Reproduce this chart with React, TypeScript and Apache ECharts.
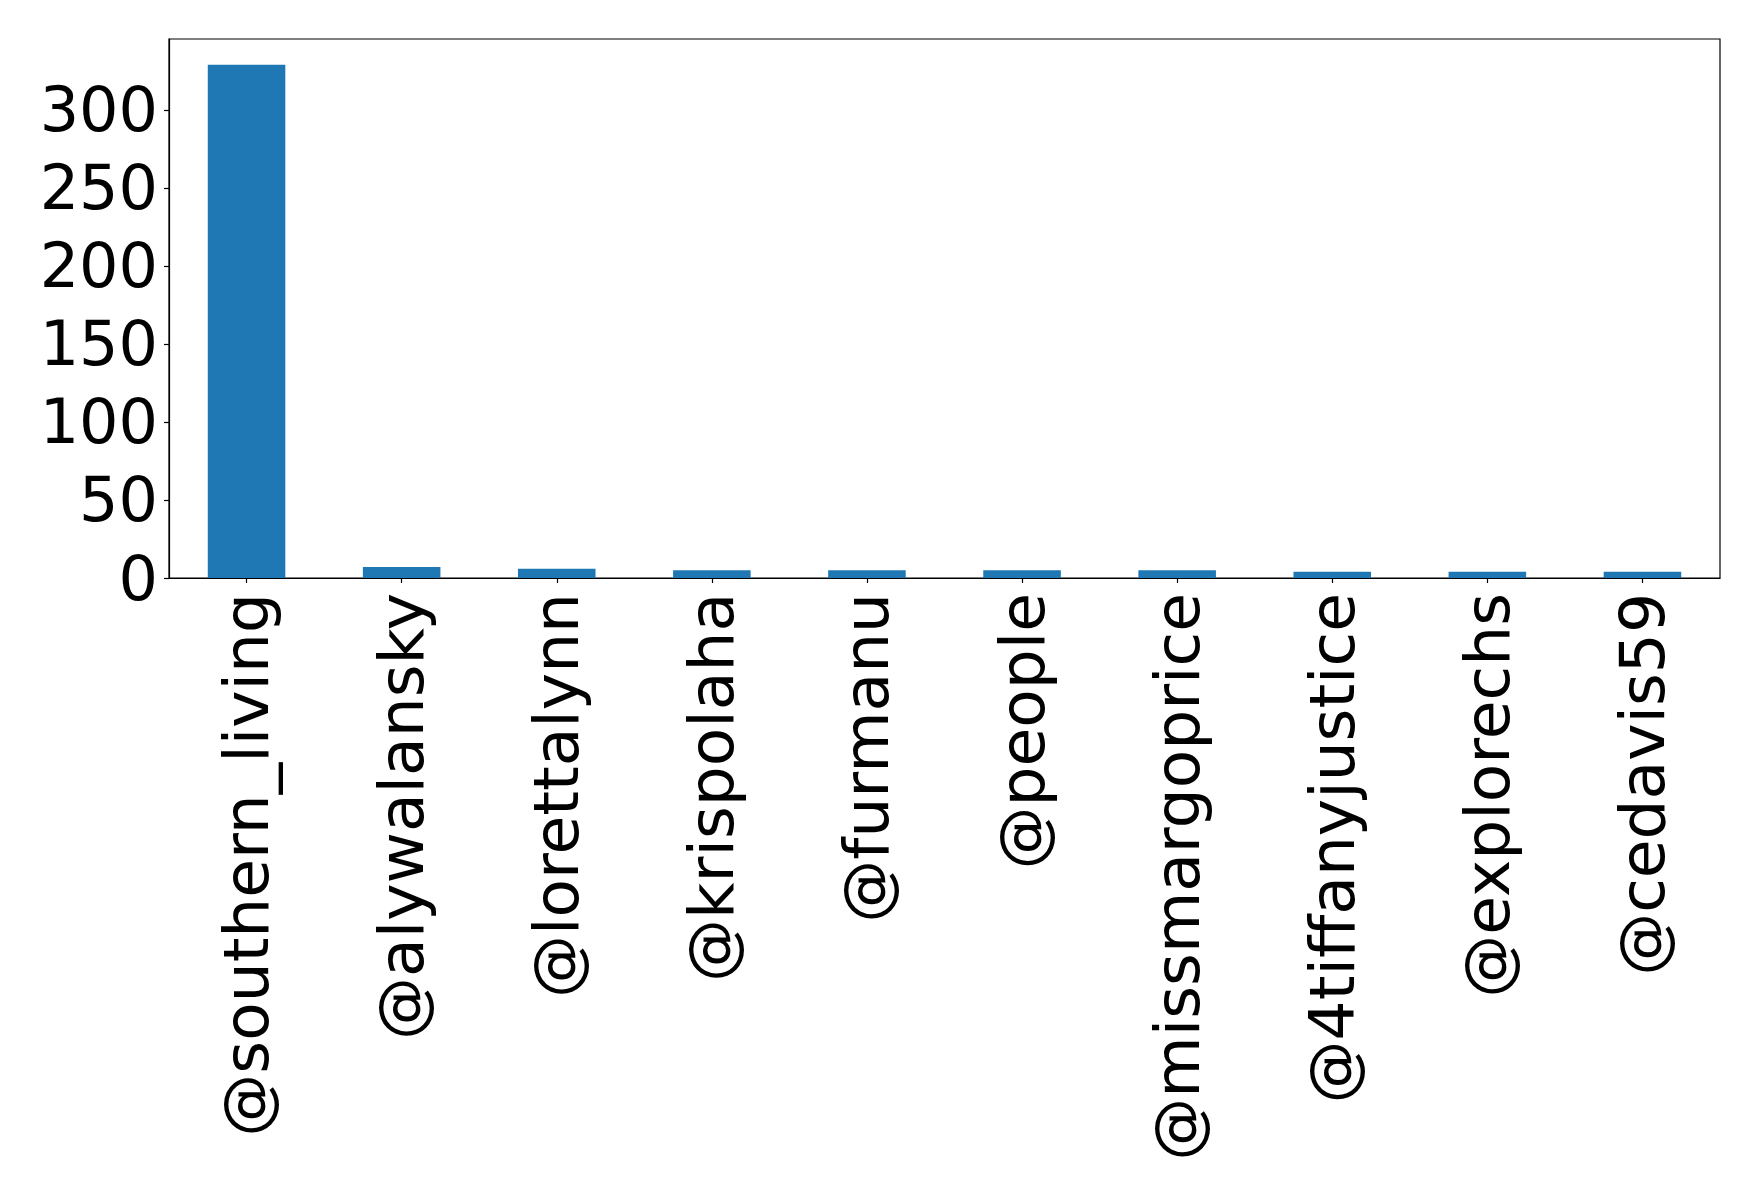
import React, { useEffect, useRef } from "react";
import * as echarts from "echarts";

const categories = [
  "@southern_living",
  "@alywalansky",
  "@lorettalynn",
  "@krispolaha",
  "@furmanu",
  "@people",
  "@missmargoprice",
  "@4tiffanyjustice",
  "@explorechs",
  "@cedavis59",
];
const values = [329, 7, 6, 5, 5, 5, 5, 4, 4, 4];
const yTicks = [0, 50, 100, 150, 200, 250, 300];
const yMax = 345.45;

export default function App() {
  const ref = useRef<HTMLDivElement>(null);
  useEffect(() => {
    document.body.style.margin = "0";
    const chart = echarts.init(ref.current!, null, { renderer: "svg" });
    const font = "DejaVu Sans";
    chart.setOption({
      animation: false,
      backgroundColor: "#ffffff",
      grid: {
        left: 169,
        top: 39,
        width: 1551,
        height: 539,
        show: true,
        borderColor: "#000000",
        borderWidth: 1.2,
        backgroundColor: "transparent",
      },
      xAxis: {
        type: "category",
        data: categories,
        axisLine: { show: true, lineStyle: { color: "#000", width: 1.2 } },
        axisTick: { show: true, alignWithLabel: true, length: 5, lineStyle: { color: "#000", width: 1.2 } },
        axisLabel: {
          rotate: 90,
          margin: 15,
          fontFamily: font,
          fontSize: 63,
          color: "#000",
          interval: 0,
        },
        splitLine: { show: false },
      },
      yAxis: {
        type: "value",
        min: 0,
        max: yMax,
        interval: 50,
        axisLine: { show: true, lineStyle: { color: "#000", width: 1.2 } },
        axisTick: { show: true, length: 5, customValues: yTicks, lineStyle: { color: "#000", width: 1.2 } },
        axisLabel: {
          margin: 11,
          fontFamily: font,
          fontSize: 62,
          color: "#000",
          customValues: yTicks,
        },
        splitLine: { show: false },
      },
      series: [
        {
          type: "bar",
          data: values,
          barWidth: "50%",
          itemStyle: { color: "#1f77b4" },
        },
      ],
    });
    return () => chart.dispose();
  }, []);
  return <div ref={ref} style={{ width: 1759, height: 1191 }} />;
}
